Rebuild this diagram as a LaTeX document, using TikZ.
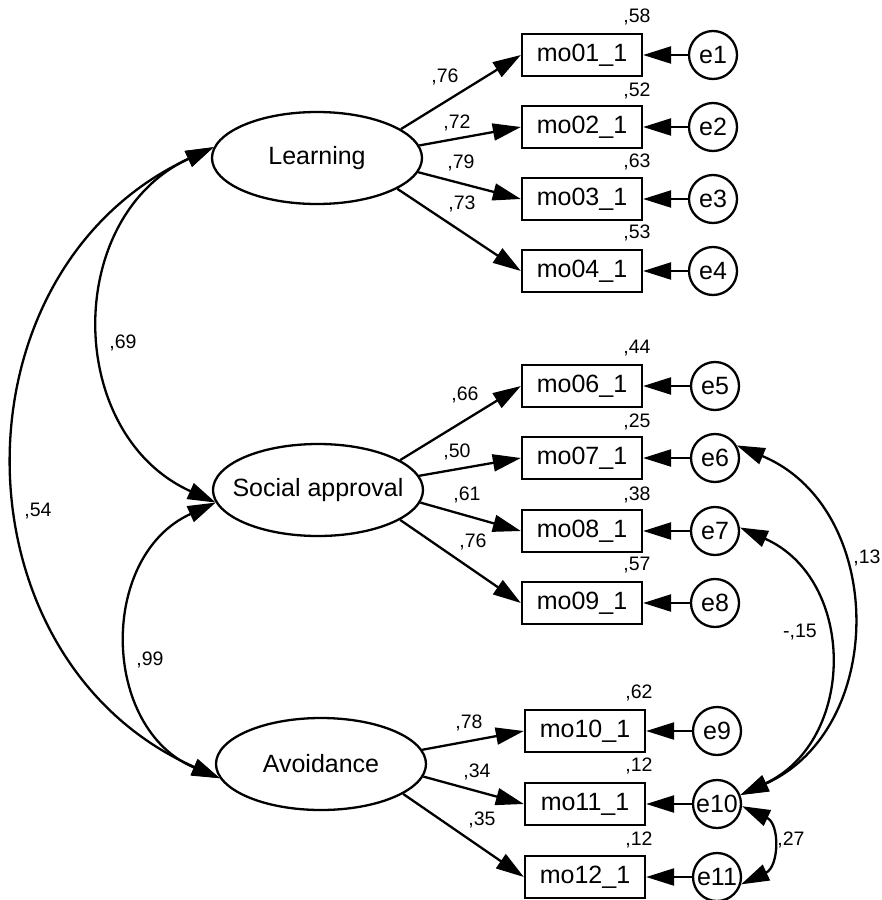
\documentclass[tikz,border=0pt]{standalone}
\usepackage{fontspec}
\setmainfont{Liberation Sans}
\usetikzlibrary{arrows.meta,shapes.geometric}
\begin{document}
\begin{tikzpicture}[x=1pt,y=1pt,line width=2.3pt,
  >={Triangle[length=28pt,width=17pt]},
  lat/.style={ellipse,draw,minimum width=210pt,minimum height=92pt,inner xsep=-12pt,inner ysep=0pt,font=\fontsize{25}{28}\selectfont},
  obs/.style={rectangle,draw,minimum width=120pt,minimum height=42pt,inner sep=0pt,font=\fontsize{25}{28}\selectfont},
  err/.style={circle,draw,minimum size=48pt,inner sep=0pt,font=\fontsize{25}{28}\selectfont},
  lbl/.style={inner sep=0pt,font=\fontsize{19.5}{21}\selectfont}]
\useasboundingbox (0,0) rectangle (882,-900);
% latent variables
\node[lat] (L) at (317,-158) {Learning};
\node[lat] (S) at (318,-490) {Social approval};
\node[lat] (A) at (321,-764) {Avoidance};
% observed
\node[obs] (m1) at (582,-55) {mo01\_1};
\node[obs] (m2) at (582,-127) {mo02\_1};
\node[obs] (m3) at (582,-199) {mo03\_1};
\node[obs] (m4) at (582,-271) {mo04\_1};
\node[obs] (m6) at (582,-386) {mo06\_1};
\node[obs] (m7) at (582,-458) {mo07\_1};
\node[obs] (m8) at (582,-531) {mo08\_1};
\node[obs] (m9) at (582,-603) {mo09\_1};
\node[obs] (m10) at (585,-731) {mo10\_1};
\node[obs] (m11) at (585,-804) {mo11\_1};
\node[obs] (m12) at (585,-877) {mo12\_1};
% errors
\node[err] (e1) at (713,-55) {e1};
\node[err] (e2) at (713,-127) {e2};
\node[err] (e3) at (713,-199) {e3};
\node[err] (e4) at (713,-271) {e4};
\node[err] (e5) at (715,-386) {e5};
\node[err] (e6) at (715,-458) {e6};
\node[err] (e7) at (715,-531) {e7};
\node[err] (e8) at (715,-603) {e8};
\node[err] (e9) at (717,-731) {e9};
\node[err] (e10) at (717,-804) {e10};
\node[err] (e11) at (717,-877) {e11};
% loadings
\draw[->] (L.19) -- (m1.west);
\draw[->] (L.7) -- (m2.west);
\draw[->] (L.-8) -- (m3.west);
\draw[->] (L.-21) -- (m4.west);
\draw[->] (S.20) -- (m6.west);
\draw[->] (S.8) -- (m7.west);
\draw[->] (S.-7) -- (m8.west);
\draw[->] (S.-20) -- (m9.west);
\draw[->] (A.8) -- (m10.west);
\draw[->] (A.-7) -- (m11.west);
\draw[->] (A.-20) -- (m12.west);
% error paths
\foreach \i/\j in {1/1,2/2,3/3,4/4,5/6,6/7,7/8,8/9,9/10,10/11,11/12}
  \draw[->] (e\i.west) -- (m\j.east);
% covariances (left)
\draw[<->] (L.174) .. controls +(204.8:166) and +(155.7:166) .. (S.187);
\draw[<->] (L.174) .. controls +(204.9:294) and +(156.2:294) .. (A.188);
\draw[<->] (S.187) .. controls +(204.4:129) and +(157.4:129) .. (A.188);
% covariances (right)
\draw[<->] (e6.30) .. controls +(-22.6:162) and +(24.2:162) .. (e10.21);
\draw[<->] (e7.8) .. controls +(-24:128) and +(25:128) .. (e10.21);
\draw[<->] (e10.-5) .. controls +(-25:42) and +(25:42) .. (e11.-17);
% loading labels
\node[lbl] (l1) at (445,-77) {,76};
\node[lbl] (l2) at (457,-123) {,72};
\node[lbl] (l3) at (461,-163) {,79};
\node[lbl] (l4) at (462,-204) {,73};
\node[lbl] (l6) at (465,-395) {,66};
\node[lbl] (l7) at (457,-452) {,50};
\node[lbl] (l8) at (467,-495) {,61};
\node[lbl] (l9) at (473,-542) {,76};
\node[lbl] (l10) at (469,-723) {,78};
\node[lbl] (l11) at (477,-772) {,34};
\node[lbl] (l12) at (482,-820) {,35};
% squared multiple correlations
\node[lbl] (r1) at (637,-17) {,58};
\node[lbl] (r2) at (637,-91) {,52};
\node[lbl] (r3) at (637,-162) {,63};
\node[lbl] (r4) at (637,-233) {,53};
\node[lbl] (r6) at (637,-348) {,44};
\node[lbl] (r7) at (637,-422) {,25};
\node[lbl] (r8) at (637,-495) {,38};
\node[lbl] (r9) at (637,-565) {,57};
\node[lbl] (r10) at (639,-693) {,62};
\node[lbl] (r11) at (639,-766) {,12};
\node[lbl] (r12) at (639,-840) {,12};
% covariance labels
\node[lbl] (c1) at (123,-343) {,69};
\node[lbl] (c2) at (38,-511) {,54};
\node[lbl] (c3) at (150,-660) {,99};
\node[lbl] (c4) at (867,-558) {,13};
\node[lbl] (c5) at (800,-632) {-,15};
\node[lbl] (c6) at (791,-840) {,27};
\end{tikzpicture}
\end{document}
